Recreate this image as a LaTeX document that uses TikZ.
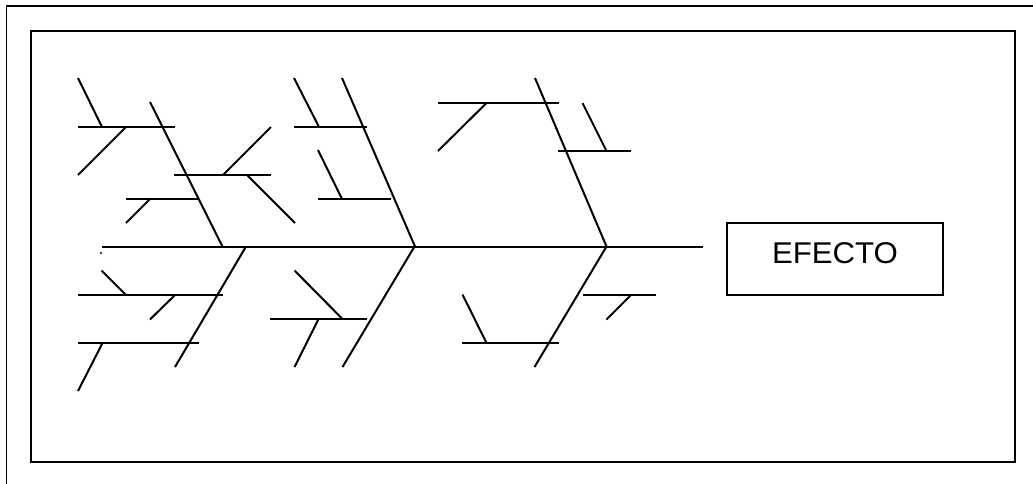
\documentclass[tikz,border=0pt]{standalone}
\usepackage{fontspec}
\setmainfont{Liberation Sans}
\begin{document}
\begin{tikzpicture}[x=1pt,y=-1pt,
  bone/.style={line width=2pt,line cap=butt},
  frame/.style={line width=2pt},
  effbox/.style={draw,line width=1.7pt,minimum width=216pt,minimum height=72pt,inner sep=0pt}]
\useasboundingbox (0,0) rectangle (1033,483);
% frames
\coordinate (ofBL) at (6.5,490);
\coordinate (ofTL) at (6.5,6);
\coordinate (ofTR) at (1040,6);
\draw[line width=1.6pt] (ofBL) -- (ofTL) -- (ofTR);
\coordinate (ifA) at (31,31);
\coordinate (ifB) at (1015,462);
\draw[frame] (ifA) rectangle (ifB);
% effect box
\node[effbox] (efb) at (835,259) {};
\node[font=\fontsize{30}{32}\selectfont,xscale=1.04] (efecto) at (835,253) {EFECTO};
% spine
\coordinate (tail) at (102,246.5);
\coordinate (head) at (703,246.5);
\draw[bone] (tail) -- (head);
\fill (101,253) circle (1.1);
% ---------- upper bones ----------
\coordinate (b1t) at (150,102);   \coordinate (b1s) at (222.5,246.5);
\coordinate (b2t) at (342,78);    \coordinate (b2s) at (415,246.5);
\coordinate (b3t) at (535,78);    \coordinate (b3s) at (606.5,246.5);
\draw[bone] (b1t) -- (b1s);
\draw[bone] (b2t) -- (b2s);
\draw[bone] (b3t) -- (b3s);
% bone 1 sub
\coordinate (h1a) at (78,127);  \coordinate (h1b) at (175,127);
\draw[bone] (h1a) -- (h1b);
\coordinate (d1a) at (78,78);   \coordinate (d1b) at (102,127);
\draw[bone] (d1a) -- (d1b);
\coordinate (d2a) at (126,127); \coordinate (d2b) at (78,175);
\draw[bone] (d2a) -- (d2b);
\coordinate (h2a) at (174,175); \coordinate (h2b) at (271,175);
\draw[bone] (h2a) -- (h2b);
\coordinate (d3a) at (223,175); \coordinate (d3b) at (271,127);
\draw[bone] (d3a) -- (d3b);
\coordinate (d4a) at (247,175); \coordinate (d4b) at (295,223);
\draw[bone] (d4a) -- (d4b);
\coordinate (h3a) at (126,198.5); \coordinate (h3b) at (198.5,198.5);
\draw[bone] (h3a) -- (h3b);
\coordinate (d5a) at (150.5,198.5); \coordinate (d5b) at (126,223);
\draw[bone] (d5a) -- (d5b);
% bone 2 sub
\coordinate (h4a) at (294,127); \coordinate (h4b) at (367,127);
\draw[bone] (h4a) -- (h4b);
\coordinate (d6a) at (294,78);  \coordinate (d6b) at (319,127);
\draw[bone] (d6a) -- (d6b);
\coordinate (h5a) at (318,199); \coordinate (h5b) at (391,199);
\draw[bone] (h5a) -- (h5b);
\coordinate (d7a) at (318,150); \coordinate (d7b) at (342,199);
\draw[bone] (d7a) -- (d7b);
% bone 3 sub
\coordinate (h6a) at (438,103); \coordinate (h6b) at (559,103);
\draw[bone] (h6a) -- (h6b);
\coordinate (d8a) at (486.5,103); \coordinate (d8b) at (438,151);
\draw[bone] (d8a) -- (d8b);
\coordinate (h7a) at (558,151); \coordinate (h7b) at (631,151);
\draw[bone] (h7a) -- (h7b);
\coordinate (d9a) at (582.5,103); \coordinate (d9b) at (606.5,151);
\draw[bone] (d9a) -- (d9b);
% ---------- lower bones ----------
\coordinate (b4s) at (246,246.5);  \coordinate (b4e) at (175,367);
\coordinate (b5s) at (414.5,246.5); \coordinate (b5e) at (342.5,367);
\coordinate (b6s) at (606.5,246.5); \coordinate (b6e) at (534.5,367);
\draw[bone] (b4s) -- (b4e);
\draw[bone] (b5s) -- (b5e);
\draw[bone] (b6s) -- (b6e);
% bone 4 sub
\coordinate (h8a) at (78,295); \coordinate (h8b) at (223,295);
\draw[bone] (h8a) -- (h8b);
\coordinate (e1a) at (101.5,270.5); \coordinate (e1b) at (126,295);
\draw[bone] (e1a) -- (e1b);
\coordinate (e2a) at (175,295); \coordinate (e2b) at (150,319.5);
\draw[bone] (e2a) -- (e2b);
\coordinate (h9a) at (78,343); \coordinate (h9b) at (199,343);
\draw[bone] (h9a) -- (h9b);
\coordinate (e3a) at (102.5,343); \coordinate (e3b) at (78,391);
\draw[bone] (e3a) -- (e3b);
% bone 5 sub
\coordinate (h10a) at (270,319); \coordinate (h10b) at (367,319);
\draw[bone] (h10a) -- (h10b);
\coordinate (e4a) at (294.5,270.5); \coordinate (e4b) at (342.5,319);
\draw[bone] (e4a) -- (e4b);
\coordinate (e5a) at (318.5,319); \coordinate (e5b) at (294.5,367);
\draw[bone] (e5a) -- (e5b);
% bone 6 sub
\coordinate (h11a) at (462,343); \coordinate (h11b) at (559,343);
\draw[bone] (h11a) -- (h11b);
\coordinate (e6a) at (462.5,294.5); \coordinate (e6b) at (486.5,343);
\draw[bone] (e6a) -- (e6b);
\coordinate (h12a) at (583,295); \coordinate (h12b) at (656,295);
\draw[bone] (h12a) -- (h12b);
\coordinate (e7a) at (631,295); \coordinate (e7b) at (606.5,319.5);
\draw[bone] (e7a) -- (e7b);
\end{tikzpicture}
\end{document}
